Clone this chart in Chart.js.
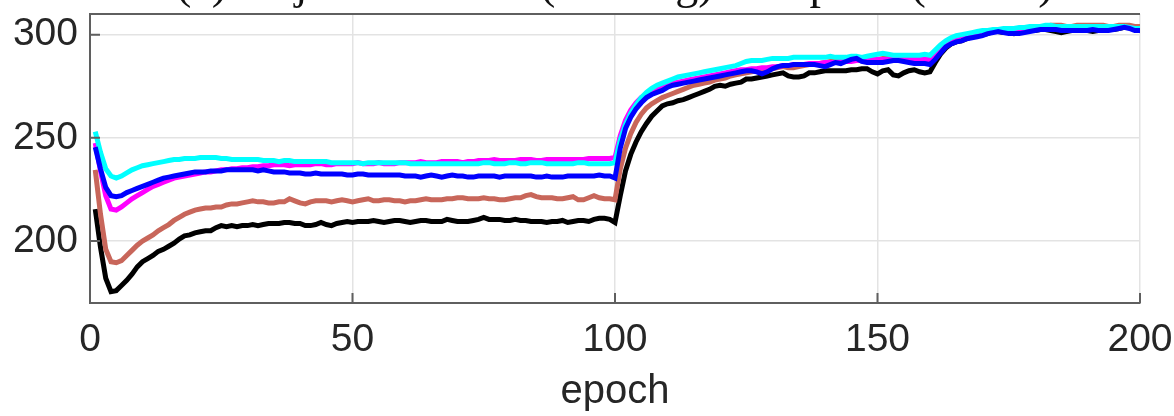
<!DOCTYPE html>
<html>
<head>
<meta charset="utf-8">
<script src="https://cdn.jsdelivr.net/npm/chart.js@4/dist/chart.umd.min.js"></script>
<style>
    html, body { margin: 0; padding: 0; background: #fff; }
    #wrap { width: 1174px; height: 416px; position: relative; }
</style>
</head>
<body>
<div id="wrap"><canvas id="chart"></canvas></div>
<script>
// tick labels
var xTicks = [0, 50, 100, 150, 200];
var yTicks = [200, 250, 300];
var titleText = "(a) Objective value (training) vs. epoch (Adam)";
var xLabel = "epoch";

// series values, one per epoch (1..200)
var blackVals = [
    215.5,197,182,175.5,176,178.5,181,184,187.5,190,191.5,193,195,196,197.5,199,201,202.5,203,204,
    204.5,205,205,206.5,207.5,207,207.5,207,207.5,207.5,208,207.5,208,208.5,208.5,208.5,209,209,208.5,208.5,
    207.5,207.5,208,209,208,207.5,208.5,209,209.5,209,209.5,209.5,209.5,210,209.5,209,209.5,210,210,209.5,
    209,209.5,210,210,209.5,209.5,209.5,210.5,210,209.5,209.5,209.5,210,210.5,211.5,210.5,210.5,210.5,210,210,
    210.5,210,210,209.5,209.5,209.5,209,209.5,209.5,210,209,209.5,210,210,209.5,210.5,211,211,210.5,209,
    222,234,242,248,253,257,260.5,263,265.5,266.5,267,268,268.5,269.5,270.5,271.5,272.5,273.5,275,275.5,
    275,276,276.5,277,278.5,278.5,279,279.5,280,280.5,281,281.5,280,279.5,279.5,280,281.5,281.5,282,282.5,
    282.5,282.5,282.5,282.5,283,283,283.5,283.5,282,281,282.5,283,280.5,280,281.5,282.5,283,282,281.5,282,
    286.5,290.5,293.5,295.5,296.5,297,298,299,299.5,300,300.5,301.5,301.5,301,301,300.5,301,301.5,302,302,
    302.5,302.5,302,301.5,301,301.5,302,302,302,302,301.5,302,302,302.5,302.5,303,303.5,303.5,302.5,302.5
];
var brownVals = [
    234.5,213,196,190,189.5,190.5,193,195.5,198,200,201.5,203,205,206.5,208,210,211.5,213,214,215,
    215.5,216,216,216.5,216.5,217.5,218,218,218.5,219,219.5,219,219,218.5,218.5,219,219,220.5,219.5,218.5,
    218,219,219.5,219.5,219.5,219,219.5,220,219.5,219,219.5,220,220.5,219.5,219.5,220,220,219.5,219.5,219,
    219.5,219.5,220,220.5,220,220,220,220.5,220.5,221,221,220.5,220.5,220.5,221,220.5,220.5,220,220,220.5,
    221,221,222,222.5,221.5,221,221,221,220.5,220.5,221,221.5,220,220,221,222,221,220.5,220.5,220,
    235,245,252,257.5,261.5,264.5,266.5,268,269.5,270.5,271.5,272.5,273.5,274.5,275.5,276,276.5,277,278,278.5,
    279,280,280.5,281,281.5,282,282.5,283,283,283.5,284,284.5,284,284,284.5,285,285.5,286,286,286.5,
    287,287,287,287,287.5,287.5,288,288,288,288,288.5,288.5,288.5,288,288,288.5,288.5,288,288,288.5,
    291,294,296,297.5,298.5,299.5,300,300.5,301,301.5,302,302,302.5,302.5,303,303,303,303,303.5,303.5,
    304,304,304.5,304.5,304.5,304,304,304.5,304.5,304.5,304.5,304.5,304.5,304,304,304.5,304.5,304.5,304,304
];
var magentaVals = [
    247.5,234,222,215.5,215,216.5,218.5,220.5,222,223.5,225,226.5,227.5,228.5,229.5,230.5,231,231.5,232,232.5,
    233,233.5,233.5,234,234.5,234.5,235,235,235.5,235.5,236,236,236.5,236.5,237,237,237,236.5,237,237,
    237,237,237.5,237.5,237,237,237.5,237.5,237.5,237.5,238,237.5,237.5,237.5,238,237.5,237.5,237.5,238,238,
    238,238,238.5,238,238,238,238.5,238.5,238.5,238.5,238,238.5,238.5,239,239,239,239.5,239,239,239,
    239,239.5,239.5,239.5,239,239,239.5,239.5,239.5,239.5,239.5,239.5,239.5,239.5,240,240,240,240,240,240.5,
    251,258.5,263.5,267,269.5,271,272.5,273.5,274.5,275.5,276.5,277,277.5,278,278.5,279,279.5,280,280.5,281,
    281.5,282,282.5,283,283,283.5,283.5,284,284,284.5,284.5,285,285,285.5,285.5,285.5,286,286,286,286.5,
    286.5,286.5,287,287,287,287.5,287.5,287.5,288,288,288,288,288,288,288,288,288,288,288,288,
    291,294,296,297.5,298.5,299.5,300,300.5,301,301.5,301.5,302,302,302.5,302.5,302.5,303,303,303,303,
    303.5,303.5,303.5,303.5,303.5,303.5,303.5,303.5,303.5,303.5,303.5,303.5,303.5,303.5,303.5,303.5,303.5,303.5,303,303
];
var blueVals = [
    245.5,235,226,222,221.5,222,223.5,224.5,225.5,226.5,227.5,228.5,229.5,230.5,231,231.5,232,232.5,233,233.5,
    233.5,233.5,234,234,234,234.5,234.5,234.5,234.5,234.5,234.5,234,234.5,234,233.5,233.5,233.5,233,233,233,
    232.5,232.5,233,232.5,232.5,232.5,232.5,232.5,232,232,232.5,232.5,232,232,232,232,232,232,232,231.5,
    231.5,231.5,231,231.5,232,231.5,231,231.5,232,231.5,231.5,231,231,231.5,231.5,231.5,231.5,231,231.5,231.5,
    231.5,231.5,231.5,231.5,231,231,231.5,231,231,231,231.5,231.5,231.5,231.5,231.5,231.5,232,231.5,231.5,230.5,
    245,254.5,260,264,267,269.5,271,272,273,274.5,275.5,276,276.5,277,277.5,278,278.5,279,279.5,280,
    280.5,281,281.5,282,282.5,282.5,282,281,282,283.5,284.5,285,285,285.5,285.5,285.5,285.5,285.5,285,284.5,
    285.5,286.5,286,287,288,288.5,287,286.5,286.5,286.5,286.5,287,287.5,287.5,287,286.5,286,286,286,285.5,
    288,291,294,295.5,296.5,297,298,298.5,299,299.5,300.5,301,301.5,301,300.5,300.5,300.5,301,301.5,302,
    302.5,302.5,302.5,302.5,302,302,302,302,302,302,302.5,302,302,302,302.5,303,303.5,303,302,302
];
var cyanVals = [
    253,243,235,231.5,230.5,231.5,233,234.5,235.5,236.5,237,237.5,238,238.5,239,239.5,239.5,240,240,240,
    240.5,240.5,240.5,240.5,240,240,239.5,239.5,239.5,239.5,239.5,239.5,239,239,239,238.5,239,239,238.5,238.5,
    238.5,238.5,238.5,238.5,238.5,238,238,238,238,238,238,237.5,238,238,238,238,238,238,238,238,
    237.5,237.5,237.5,237.5,237.5,237.5,237.5,237.5,237.5,237.5,237.5,237.5,237.5,237.5,238,238,237.5,237.5,237.5,238,
    238,237.5,237.5,238,238,238,237.5,237.5,237.5,237.5,237.5,237.5,238,238,237.5,237.5,237.5,237.5,237.5,238,
    249,256.5,262,266,269.5,272,274,275.5,276.5,277.5,278.5,279.5,280,280.5,281,281.5,282,282.5,283,283.5,
    284,284.5,285,286,287,287.5,287.5,287.5,288,288.5,288.5,288.5,288.5,289,289,289,289,289,289,289,
    289.5,289,289,289,289.5,289.5,289,289.5,290,290.5,291,290.5,290,290,290,290,290,290,290.5,290,
    292.5,295,297,298.5,299.5,300,300.5,301,301.5,302,302,302.5,302.5,303,303,303,303.5,303.5,304,304,
    304,304.5,304.5,304,304,304,304,304,304,304,304,304,304,304,304,304,304,303.5,303,303
];

var epochs = blackVals.map(function (v, i) { return i + 1; });

function toPoints(vals) {
    return vals.map(function (v, i) { return { x: epochs[i], y: v }; });
}

function lineSet(label, vals, color) {
    return {
        label: label,
        data: toPoints(vals),
        borderColor: color,
        backgroundColor: color,
        borderWidth: 5,
        pointRadius: 0,
        tension: 0,
        fill: false
    };
}

var axisColor = '#5f5f5f';
var gridColor = '#e3e3e3';
var textColor = '#262626';

// inner tick marks, top box edge and the clipped title
var framePlugin = {
    id: 'frame',
    afterDraw: function (chart) {
        var ctx = chart.ctx;
        var area = chart.chartArea;
        var xs = chart.scales.x;
        var ys = chart.scales.y;
        ctx.save();
        ctx.strokeStyle = axisColor;
        ctx.lineWidth = 2;
        ctx.beginPath();
        yTicks.forEach(function (t) {
            var py = ys.getPixelForValue(t);
            ctx.moveTo(area.left, py);
            ctx.lineTo(area.left + 10, py);
        });
        xTicks.forEach(function (t) {
            var px = xs.getPixelForValue(t);
            ctx.moveTo(px, area.bottom);
            ctx.lineTo(px, area.bottom - 10);
        });
        // top edge of the box
        ctx.moveTo(area.left, area.top);
        ctx.lineTo(area.right, area.top);
        ctx.stroke();

        // title sits mostly above the canvas, only descenders show
        ctx.fillStyle = '#111';
        ctx.font = '46px "Liberation Serif", serif';
        ctx.textAlign = 'left';
        ctx.textBaseline = 'alphabetic';
        ctx.fillText(titleText, 176, -2);
        ctx.restore();
    }
};

new Chart(document.getElementById('chart'), {
    type: 'line',
    data: {
        datasets: [
            lineSet('blue', blueVals, '#0000ff'),
            lineSet('cyan', cyanVals, '#00ffff'),
            lineSet('magenta', magentaVals, '#ff00ff'),
            lineSet('brown', brownVals, '#c8665a'),
            lineSet('black', blackVals, '#000000')
        ]
    },
    options: {
        responsive: true,
        maintainAspectRatio: false,
        animation: false,
        layout: { padding: { top: 14, right: 34, left: 0, bottom: 0 } },
        plugins: {
            legend: { display: false },
            tooltip: { enabled: false }
        },
        scales: {
            x: {
                type: 'linear',
                min: 0,
                max: 200,
                afterBuildTicks: function (scale) {
                    scale.ticks = xTicks.map(function (v) { return { value: v }; });
                },
                afterFit: function (scale) {
                    scale.height = 113;
                    scale.paddingLeft = 0;
                    scale.paddingRight = 0;
                },
                grid: { color: gridColor, lineWidth: 1.5, drawTicks: false },
                border: { color: axisColor, width: 2 },
                ticks: {
                    color: textColor,
                    padding: 14,
                    maxRotation: 0,
                    font: { family: 'Liberation Sans', size: 39 }
                },
                title: {
                    display: true,
                    text: xLabel,
                    color: textColor,
                    padding: { top: 4, bottom: 0 },
                    font: { family: 'Liberation Sans', size: 40 }
                }
            },
            y: {
                type: 'linear',
                min: 170,
                max: 310,
                afterBuildTicks: function (scale) {
                    scale.ticks = yTicks.map(function (v) { return { value: v }; });
                },
                afterFit: function (scale) {
                    scale.width = 90;
                    scale.paddingTop = 0;
                    scale.paddingBottom = 0;
                },
                grid: { color: gridColor, lineWidth: 1.5, drawTicks: false },
                border: { color: axisColor, width: 2 },
                ticks: {
                    color: textColor,
                    padding: 12,
                    font: { family: 'Liberation Sans', size: 39 }
                }
            }
        }
    },
    plugins: [framePlugin]
});
</script>
</body>
</html>
